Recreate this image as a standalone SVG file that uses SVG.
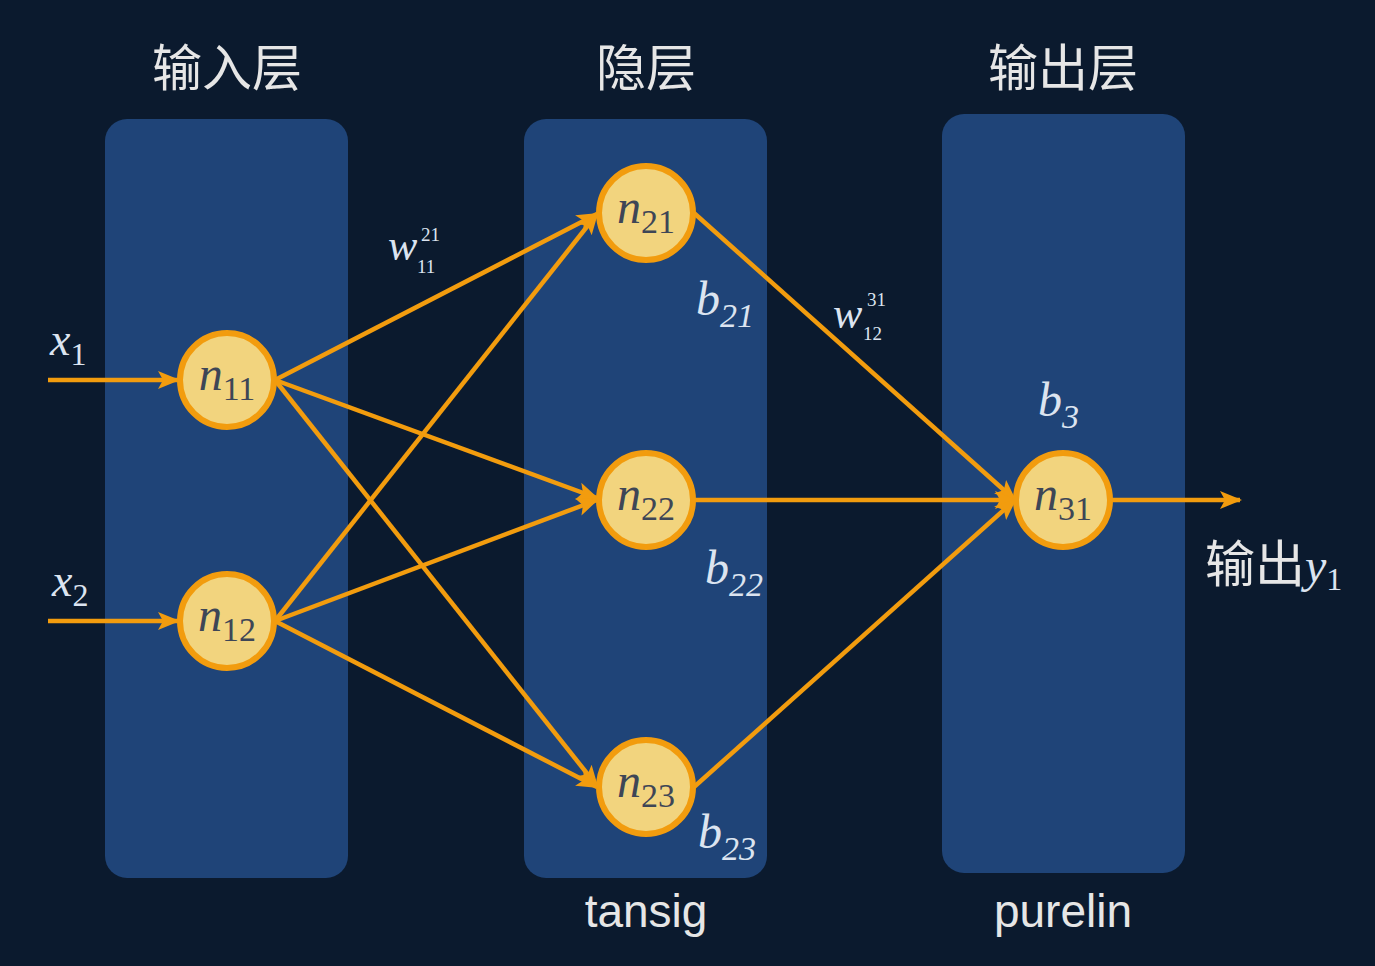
<svg xmlns="http://www.w3.org/2000/svg" width="1375" height="966" viewBox="0 0 1375 966">
<defs>
<marker id="ah" markerUnits="userSpaceOnUse" markerWidth="22" markerHeight="20" refX="20" refY="10" orient="auto">
<path d="M0,1 L22,10 L0,19 L5,10 Z" fill="#f29c0e"/>
</marker>
<style>
.panel{fill:#1f4478}
.node{fill:#f2d47e;stroke:#f29c0e;stroke-width:6}
.edge{stroke:#f29c0e;stroke-width:4.5;fill:none;marker-end:url(#ah)}
.head{font-family:"Noto Sans CJK SC","Liberation Sans",sans-serif;font-size:50px;fill:#e6e6e6;text-anchor:middle}
.fn{font-family:"Liberation Sans",sans-serif;font-size:46px;fill:#e6e6e6;text-anchor:middle}
.nl{font-family:"Liberation Serif",serif;fill:#3e4656;font-size:48px;text-anchor:middle}
.ml{font-family:"Liberation Serif",serif;fill:#dce4f0}
.it{font-style:italic}
</style>
</defs>
<rect width="1375" height="966" fill="#0b1a2e"/>
<g id="panels">
<rect class="panel" x="105" y="119" width="243" height="759" rx="22"/>
<rect class="panel" x="524" y="119" width="243" height="759" rx="22"/>
<rect class="panel" x="942" y="114" width="243" height="759" rx="22"/>
</g>
<g id="titles">
<text class="head" x="227" y="86">输入层</text>
<text class="head" x="646" y="86">隐层</text>
<text class="head" x="1063" y="86">输出层</text>
<text class="fn" x="646" y="927">tansig</text>
<text class="fn" x="1063" y="927">purelin</text>
</g>
<g id="connectors">
<line class="edge" x1="48" y1="380" x2="178" y2="380"/>
<line class="edge" x1="48" y1="621" x2="178" y2="621"/>
<line class="edge" x1="275" y1="380" x2="597" y2="214"/>
<line class="edge" x1="275" y1="380" x2="597" y2="498"/>
<line class="edge" x1="275" y1="380" x2="597" y2="786"/>
<line class="edge" x1="275" y1="621" x2="597" y2="214"/>
<line class="edge" x1="275" y1="621" x2="597" y2="500"/>
<line class="edge" x1="275" y1="621" x2="597" y2="787"/>
<line class="edge" x1="694" y1="213" x2="1015" y2="500"/>
<line class="edge" x1="694" y1="500" x2="1015" y2="500"/>
<line class="edge" x1="694" y1="787" x2="1015" y2="500"/>
<line class="edge" x1="1112" y1="500" x2="1240" y2="500"/>
</g>
<g id="n11"><circle class="node" cx="227" cy="380" r="47"/><text class="nl" x="227" y="390"><tspan class="it">n</tspan><tspan font-size="34" dy="10">11</tspan></text></g>
<g id="n12"><circle class="node" cx="227" cy="621" r="47"/><text class="nl" x="227" y="631"><tspan class="it">n</tspan><tspan font-size="34" dy="10">12</tspan></text></g>
<g id="n21"><circle class="node" cx="646" cy="213" r="47"/><text class="nl" x="646" y="223"><tspan class="it">n</tspan><tspan font-size="34" dy="10">21</tspan></text></g>
<g id="n22"><circle class="node" cx="646" cy="500" r="47"/><text class="nl" x="646" y="510"><tspan class="it">n</tspan><tspan font-size="34" dy="10">22</tspan></text></g>
<g id="n23"><circle class="node" cx="646" cy="787" r="47"/><text class="nl" x="646" y="797"><tspan class="it">n</tspan><tspan font-size="34" dy="10">23</tspan></text></g>
<g id="n31"><circle class="node" cx="1063" cy="500" r="47"/><text class="nl" x="1063" y="510"><tspan class="it">n</tspan><tspan font-size="34" dy="10">31</tspan></text></g>
<g id="labels">
<text class="ml" x="50" y="355" font-size="46"><tspan class="it">x</tspan><tspan font-size="32" dy="10">1</tspan></text>
<text class="ml" x="52" y="596" font-size="46"><tspan class="it">x</tspan><tspan font-size="32" dy="10">2</tspan></text>
<text class="ml" x="388" y="260" font-size="44"><tspan class="it">w</tspan></text>
<text class="ml" x="421" y="241" font-size="19">21</text>
<text class="ml" x="417" y="273" font-size="19">11</text>
<text class="ml" x="833" y="328" font-size="44"><tspan class="it">w</tspan></text>
<text class="ml" x="867" y="306" font-size="19">31</text>
<text class="ml" x="863" y="340" font-size="19">12</text>
<text class="ml it" x="696" y="315" font-size="48">b<tspan font-size="34" dy="12">21</tspan></text>
<text class="ml it" x="705" y="584" font-size="48">b<tspan font-size="34" dy="12">22</tspan></text>
<text class="ml it" x="698" y="848" font-size="48">b<tspan font-size="34" dy="12">23</tspan></text>
<text class="ml it" x="1038" y="416" font-size="48">b<tspan font-size="34" dy="12">3</tspan></text>
<text x="1205" y="582" font-size="50" font-family="Noto Sans CJK SC,Liberation Sans,sans-serif" fill="#e6e6e6">输出<tspan font-family="Liberation Serif,serif" font-style="italic" font-size="48" fill="#dce4f0">y</tspan><tspan font-family="Liberation Serif,serif" font-size="32" dy="8" fill="#dce4f0">1</tspan></text>
</g>
</svg>
